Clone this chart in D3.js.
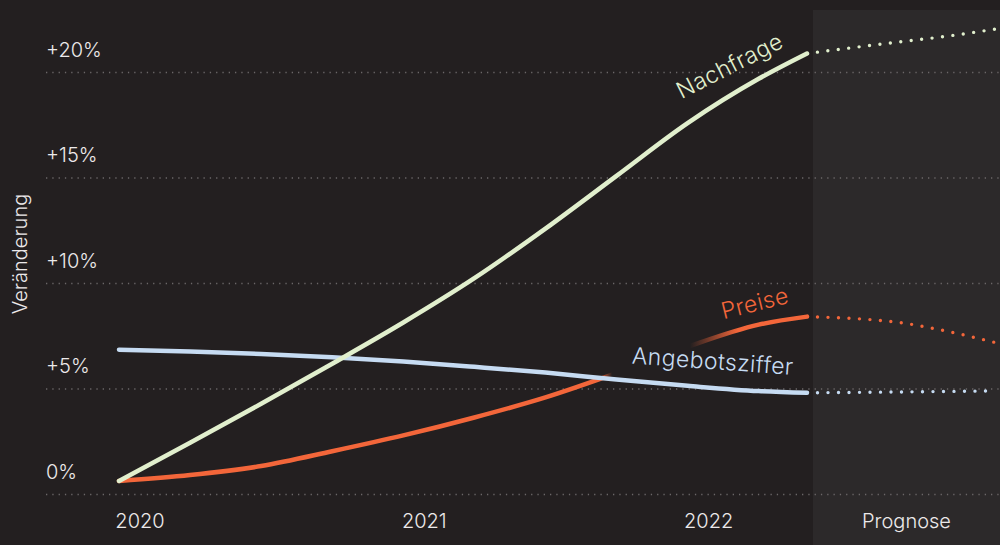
<!DOCTYPE html>
<html>
<head>
<meta charset="utf-8">
<script src="https://cdn.jsdelivr.net/npm/d3@7"></script>
<style>
    html, body { margin: 0; padding: 0; background: #231f20; }
    svg { display: block; font-family: Inter, "Noto Sans", sans-serif; }
</style>
</head>
<body>
<div id="chart"></div>
<script>
const width = 1000;
const height = 545;

const yTicks = [0, 5, 10, 15, 20];
const xTicks = [2020, 2021, 2022];

// decimal years of the observed points
const timeObs = [2020, 2020.25, 2020.5, 2020.75, 2021, 2021.25, 2021.5, 2021.75, 2022, 2022.25, 2022.42];
const nachfrage = [0.64, 2.45, 4.3, 6.2, 8.15, 10.25, 12.6, 15.1, 17.6, 19.7, 20.9];
const preise = [0.64, 0.92, 1.35, 2.05, 2.8, 3.65, 4.6, 5.75, 7.0, 8.05, 8.43];
const angebot = [6.86, 6.78, 6.66, 6.5, 6.3, 6.05, 5.78, 5.45, 5.15, 4.9, 4.82];

// forecast
const timeProg = [2022.42, 2022.75, 2022.89, 2023.08];
const nachfrageProg = [20.9, 21.46, 21.68, 22.05];
const preiseProg = [8.43, 8.14, 7.8, 7.21];
const angebotProg = [4.82, 4.86, 4.88, 4.91];

const colors = { nachfrage: "#e1efcd", preise: "#f3663a", angebot: "#c6dbf2" };
const bg = "#231f20";
const textColor = "#ece9ea";

const x = d3.scaleLinear().domain([2020, 2022.42]).range([119, 807]);
const y = d3.scaleLinear().domain([0, 20]).range([494.5, 72.5]);

const svg = d3.select("#chart").append("svg")
    .attr("width", width)
    .attr("height", height);

svg.append("rect").attr("width", width).attr("height", height).attr("fill", bg);

// forecast band
const bandX = x(2022.42) + 6;
svg.append("rect")
    .attr("x", bandX)
    .attr("y", 10)
    .attr("width", width - bandX)
    .attr("height", height - 10)
    .attr("fill", "#2c292a");

// grid
svg.selectAll(".grid")
    .data(yTicks)
    .enter()
    .append("line")
    .attr("x1", 46)
    .attr("x2", width)
    .attr("y1", d => y(d))
    .attr("y2", d => y(d))
    .attr("stroke", "#6b6768")
    .attr("stroke-width", 1.3)
    .attr("stroke-dasharray", "1.3 5");

svg.selectAll(".ylab")
    .data(yTicks)
    .enter()
    .append("text")
    .attr("x", 46)
    .attr("y", d => y(d) - 16)
    .attr("fill", textColor)
    .style("font-size", "20px")
    .style("font-weight", 300)
    .text(d => d === 0 ? "0%" : `+${d}%`);

svg.append("text")
    .attr("transform", "translate(27,254) rotate(-90)")
    .attr("text-anchor", "middle")
    .attr("fill", textColor)
    .style("font-size", "20px")
    .style("font-weight", 300)
    .text("Veränderung");

svg.selectAll(".xlab")
    .data(xTicks)
    .enter()
    .append("text")
    .attr("x", d => x(d) + 21)
    .attr("y", 528)
    .attr("text-anchor", "middle")
    .attr("fill", textColor)
    .style("font-size", "20px")
    .style("font-weight", 300)
    .text(d => d);

svg.append("text")
    .attr("x", (bandX + width) / 2)
    .attr("y", 528)
    .attr("text-anchor", "middle")
    .attr("fill", textColor)
    .style("font-size", "20px")
    .style("font-weight", 300)
    .text("Prognose");

// gradient that hides the Preise line behind the Angebotsziffer label
const grad = svg.append("defs").append("linearGradient")
    .attr("id", "preiseFade")
    .attr("gradientUnits", "userSpaceOnUse")
    .attr("x1", 0).attr("x2", width)
    .attr("y1", 0).attr("y2", 0);
[[0, 1], [600, 1], [612, 0], [690, 0], [738, 1], [width, 1]].forEach(s => {
    grad.append("stop")
        .attr("offset", s[0] / width)
        .attr("stop-color", colors.preise)
        .attr("stop-opacity", s[1]);
});

const line = d3.line()
    .x(d => x(d[0]))
    .y(d => y(d[1]))
    .curve(d3.curveMonotoneX);

const series = [
    { key: "preise", vals: preise, prog: preiseProg, stroke: "url(#preiseFade)" },
    { key: "angebot", vals: angebot, prog: angebotProg, stroke: colors.angebot },
    { key: "nachfrage", vals: nachfrage, prog: nachfrageProg, stroke: colors.nachfrage }
];

series.forEach(s => {
    svg.append("path")
        .datum(timeProg.map((t, i) => [t, s.prog[i]]))
        .attr("d", line)
        .attr("fill", "none")
        .attr("stroke", colors[s.key])
        .attr("stroke-width", 3.4)
        .attr("stroke-linecap", "round")
        .attr("stroke-dasharray", "0 10.5");

    svg.append("path")
        .datum(timeObs.map((t, i) => [t, s.vals[i]]))
        .attr("d", line)
        .attr("fill", "none")
        .attr("stroke", s.stroke)
        .attr("stroke-width", 4.5)
        .attr("stroke-linecap", "round");
});

// labels
const lastT = timeObs[timeObs.length - 1];
const labels = [
    { text: "Nachfrage", v: nachfrage[nachfrage.length - 1], dx: -22, dy: -7, rot: -27, color: colors.nachfrage },
    { text: "Preise", v: preise[preise.length - 1], dx: -17, dy: -14, rot: -14, color: colors.preise },
    { text: "Angebotsziffer", v: angebot[angebot.length - 1], dx: -14, dy: -18, rot: 4, color: colors.angebot }
];

svg.selectAll(".label")
    .data(labels)
    .enter()
    .append("text")
    .attr("transform", d => `translate(${x(lastT) + d.dx},${y(d.v) + d.dy}) rotate(${d.rot})`)
    .attr("text-anchor", "end")
    .attr("fill", d => d.color)
    .style("font-size", "23px")
    .style("font-weight", 300)
    .style("letter-spacing", "0.4px")
    .text(d => d.text);
</script>
</body>
</html>
